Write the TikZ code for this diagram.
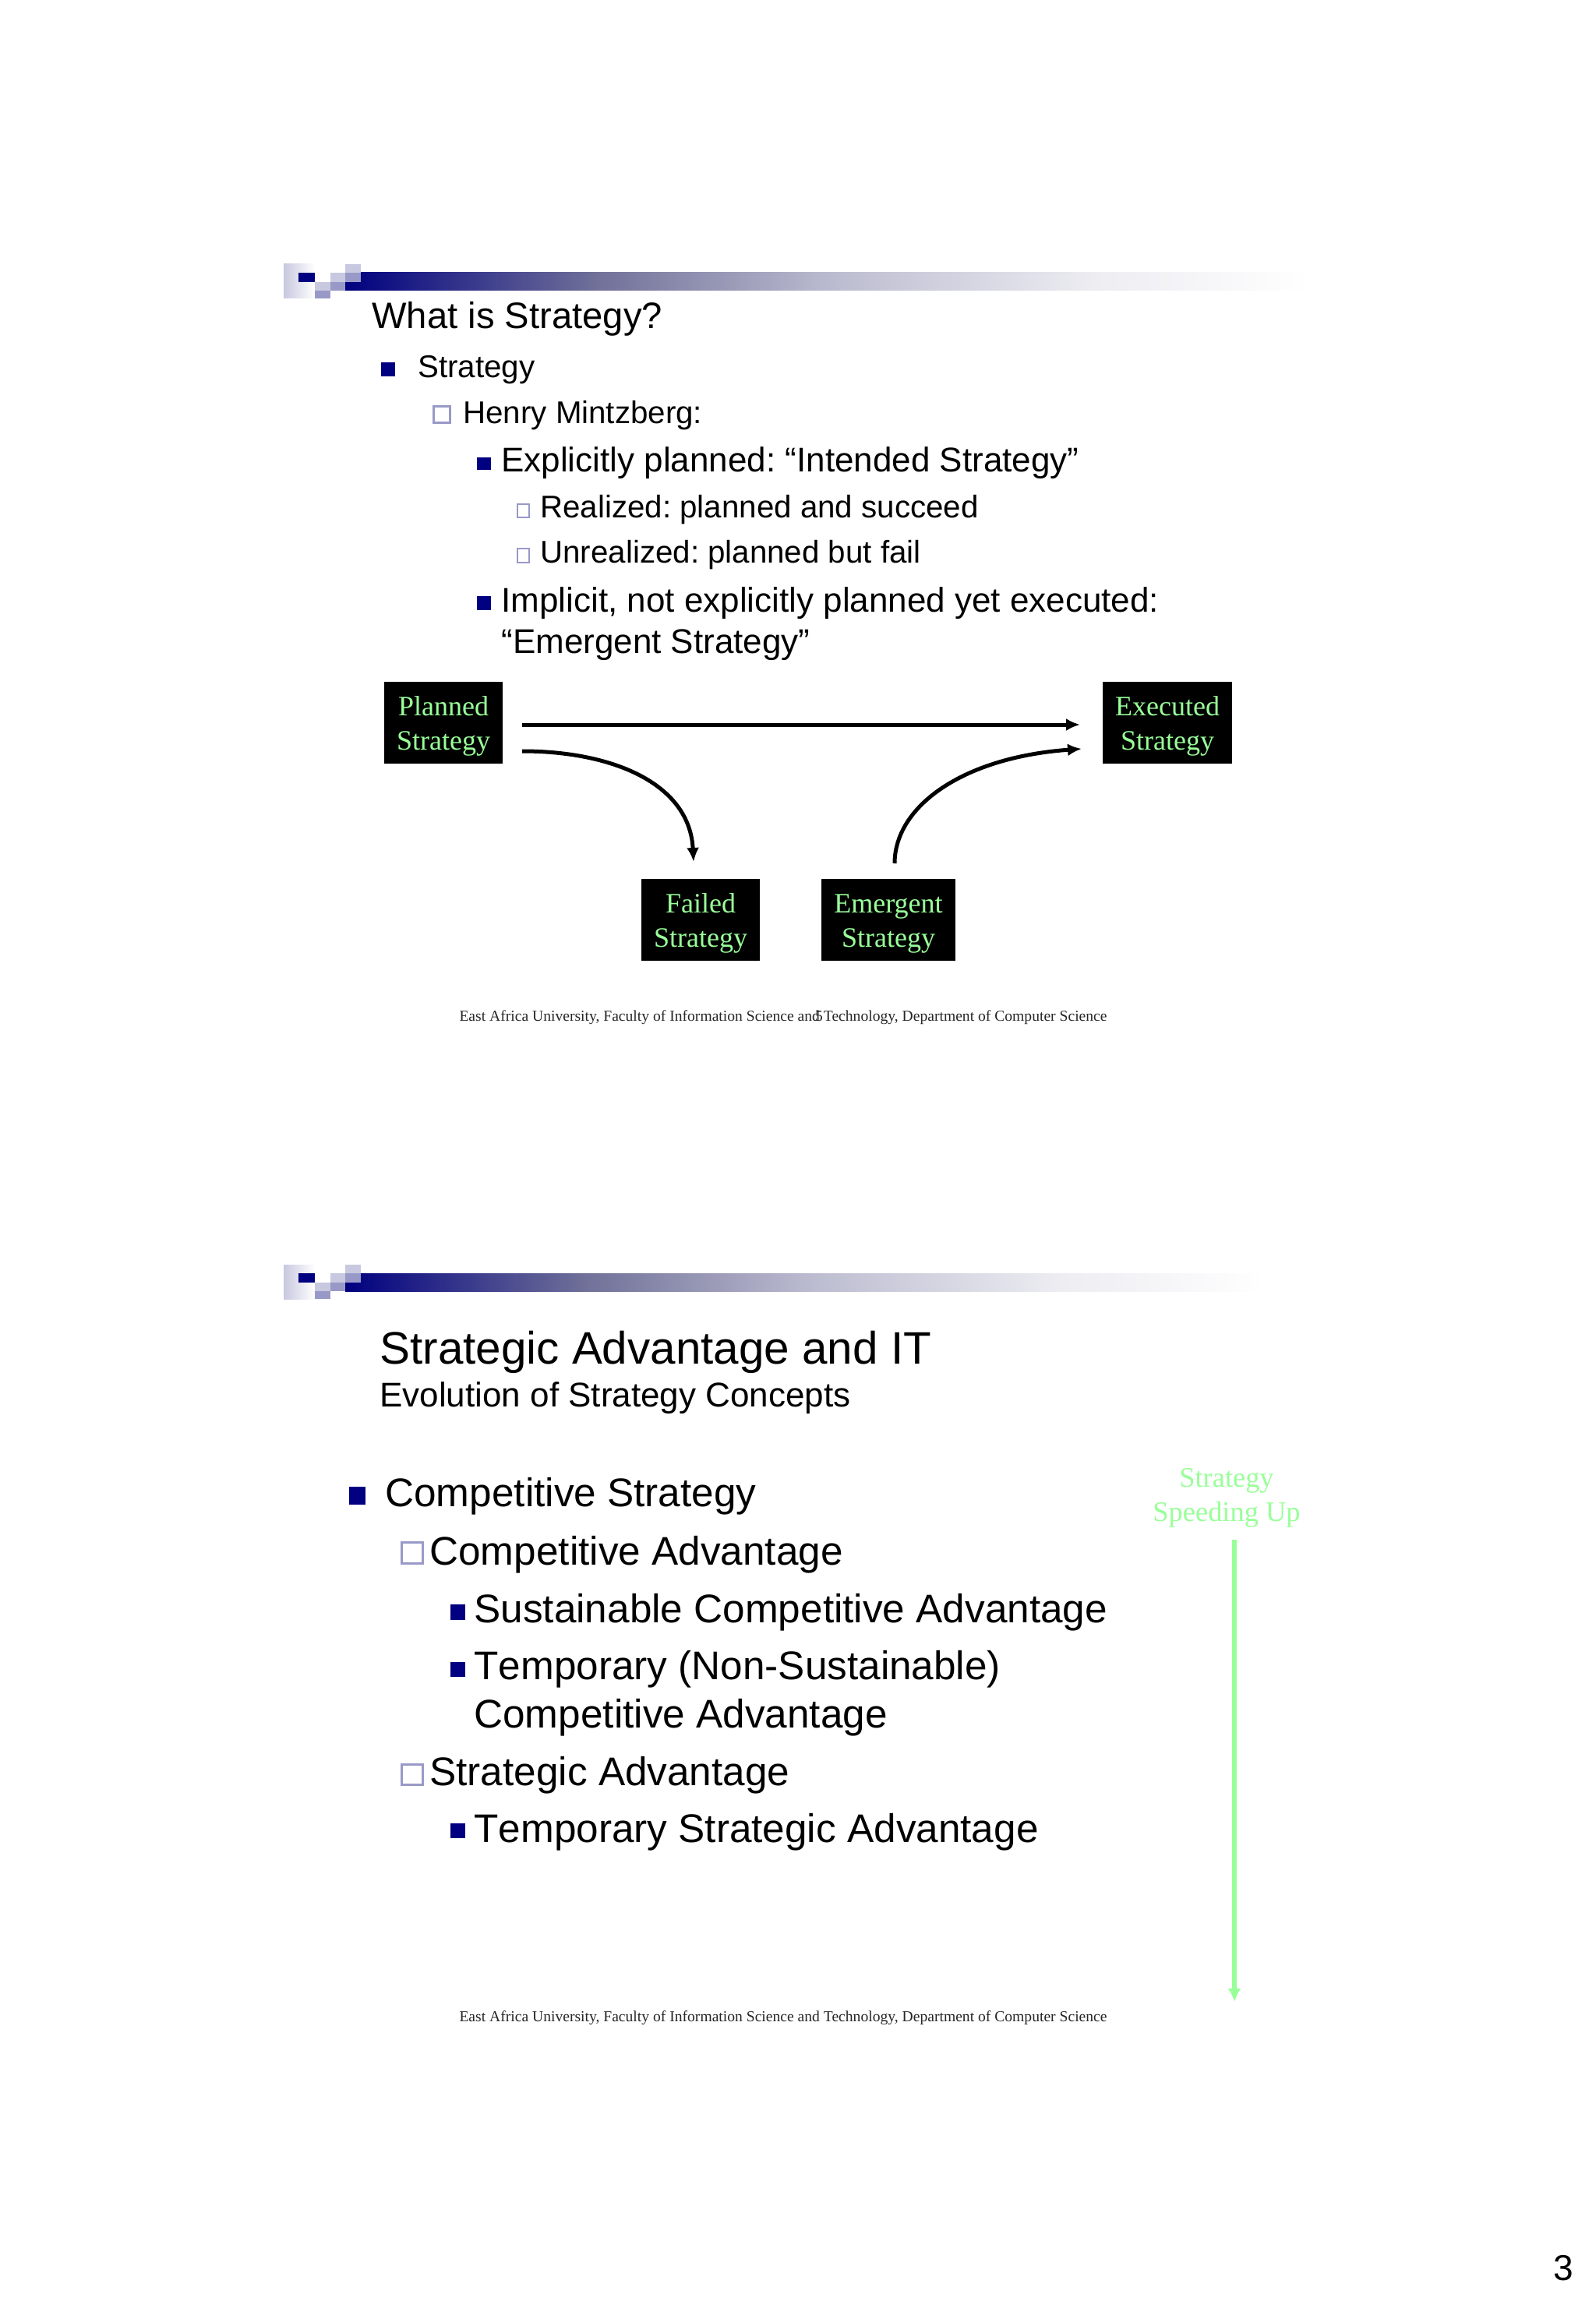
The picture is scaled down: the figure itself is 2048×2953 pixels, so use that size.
\documentclass[tikz,border=0pt]{standalone}
\usepackage{fontspec}
\setmainfont{Liberation Serif}
\newfontfamily\arialfont[Kerning=Off]{Liberation Sans}
\usetikzlibrary{arrows.meta}
\definecolor{slidenavy}{HTML}{000080}
\definecolor{slidelilac}{HTML}{9999C8}
\definecolor{slidepale}{HTML}{C8C8E0}
\definecolor{slidegreen}{HTML}{99FF99}
\pgfdeclarehorizontalshading{bannerfade}{100bp}{rgb(0bp)=(0,0,.5); rgb(25bp)=(0,0,.5);
  rgb(38bp)=(.44,.44,.6); rgb(50.5bp)=(.74,.74,.82);
  rgb(64bp)=(.93,.93,.95); rgb(75bp)=(1,1,1); rgb(100bp)=(1,1,1)}
\newcommand{\arialsize}[1]{\arialfont\fontsize{#1}{#1}\selectfont}
\newcommand{\slidebanner}[2]{
\begin{scope}[shift={(0,#1)}]
\shade[left color=slidepale, right color=white] (364,0) rectangle (404,44);
\shade[shading=bannerfade] (443,11) rectangle (#2,34);
\fill[slidenavy] (383,11) rectangle (404,23);
\fill[slidepale] (404,23) rectangle (424,34);
\fill[slidelilac] (404,34) rectangle (424,44);
\fill[slidepale] (424,11) rectangle (443,23);
\fill[slidelilac] (424,23) rectangle (443,34);
\fill[slidepale] (443,0) rectangle (463,11);
\fill[slidelilac] (443,11) rectangle (463,23);
\end{scope}
}
\newcommand{\boxstrut}{\rule{0pt}{17pt}}
\tikzset{
  lineleft/.style={anchor=base west, inner sep=0pt, text=black},
  stratbox/.style={fill=black, text=slidegreen, align=center, inner sep=0pt, minimum height=52.5pt,
    font=\fontsize{18}{22}\selectfont},
  footline/.style={anchor=base, inner sep=0pt, text=black!85, font=\fontsize{9.8}{12}\selectfont},
  bulletfull/.style={fill=slidenavy},
  bulletopen/.style={draw=slidelilac, fill=white, line width=1.5pt},
  flowline/.style={-{Latex[length=9pt,width=8pt]}, line width=2.5pt},
}

\begin{document}
\frenchspacing
\begin{tikzpicture}[x=0.5pt, y=-0.5pt]
\useasboundingbox (0,0) rectangle (2048,2953);

\slidebanner{339}{1680}

\draw (477,422) node[lineleft, font=\arialsize{23.6}] (whatis) {What is Strategy?};

\fill[bulletfull] (489,465) rectangle (507,483);
\draw (536,485) node[lineleft, font=\arialsize{20.15}] (strategyitem) {Strategy};

\draw[bulletopen] (556,521) rectangle (577,542);
\draw (594,543) node[lineleft, font=\arialsize{20.15}] (henry) {Henry Mintzberg:};

\fill[bulletfull] (612,587) rectangle (630,603);
\draw (643,605) node[lineleft, font=\arialsize{22}] (explicit) {Explicitly planned: “Intended Strategy”};

\draw[bulletopen, line width=1.1pt] (664,647) rectangle (679,664);
\draw (693,664) node[lineleft, font=\arialsize{20.15}] (realized) {Realized: planned and succeed};

\draw[bulletopen, line width=1.1pt] (664,704) rectangle (679,722);
\draw (693,722) node[lineleft, font=\arialsize{20.15}] (unrealized) {Unrealized: planned but fail};

\fill[bulletfull] (612,765) rectangle (630,783);
\draw (643,785) node[lineleft, font=\arialsize{22}] (implicit) {Implicit, not explicitly planned yet executed:};
\draw (643,838) node[lineleft, font=\arialsize{22}] (emergentitem) {“Emergent Strategy”};

\node[stratbox, minimum width=76pt] (planned) at (569,927.5) {\boxstrut Planned\\Strategy};
\node[stratbox, minimum width=83pt] (executed) at (1498,927.5) {\boxstrut Executed\\Strategy};
\node[stratbox, minimum width=76pt] (failed) at (899,1180) {\boxstrut Failed\\Strategy};
\node[stratbox, minimum width=86pt] (emergent) at (1140,1180) {\boxstrut Emergent\\Strategy};

\coordinate (plannedtop) at (670,930);
\coordinate (plannedlow) at (670,964);
\coordinate (executedtop) at (1386,930);
\coordinate (executedlow) at (1388,961);
\coordinate (failedtop) at (890,1106);
\coordinate (emergenttop) at (1148,1108);

\draw[flowline] (plannedtop) -- (executedtop);
\draw[flowline] (plannedlow) .. controls (785,964) and (885,1005) .. (failedtop);
\draw[flowline] (emergenttop) .. controls (1148,1035) and (1235,972) .. (executedlow);

\draw (1005,1310) node[footline] (footone) {East Africa University, Faculty of Information Science and Technology, Department of Computer Science};
\draw (1051,1310) node[footline] (numfive) {5};

\slidebanner{1623}{1625}

\draw (487,1750) node[lineleft, font=\arialsize{29.2}] (advantage) {Strategic Advantage and IT};
\draw (487,1805) node[lineleft, font=\arialsize{22}] (evolution) {Evolution of Strategy Concepts};

\fill[bulletfull] (448,1908) rectangle (469,1931);
\draw (494,1933) node[lineleft, font=\arialsize{25.65}] (competitive) {Competitive Strategy};

\draw[bulletopen] (515,1979) rectangle (542,2006);
\draw (551,2008) node[lineleft, font=\arialsize{25.65}] (compadv) {Competitive Advantage};

\fill[bulletfull] (578,2059) rectangle (597,2079);
\draw (608,2082) node[lineleft, font=\arialsize{25.65}] (sustain) {Sustainable Competitive Advantage};

\fill[bulletfull] (578,2133) rectangle (597,2152);
\draw (608,2155) node[lineleft, font=\arialsize{25.65}] (temporary) {Temporary (Non-Sustainable)};
\draw (608,2217) node[lineleft, font=\arialsize{25.65}] (tempadv) {Competitive Advantage};

\draw[bulletopen] (515,2264) rectangle (542,2290);
\draw (551,2291) node[lineleft, font=\arialsize{25.65}] (stratadv) {Strategic Advantage};

\fill[bulletfull] (578,2340) rectangle (597,2359);
\draw (608,2364) node[lineleft, font=\arialsize{25.65}] (tempstrat) {Temporary Strategic Advantage};

\draw (1574,1908) node[anchor=base, inner sep=0pt, text=slidegreen, font=\fontsize{18.2}{22}\selectfont] (speedone) {Strategy};
\draw (1574,1952) node[anchor=base, inner sep=0pt, text=slidegreen, font=\fontsize{18.2}{22}\selectfont] (speedtwo) {Speeding Up};

\coordinate (speedstart) at (1584,1976);
\coordinate (speedend) at (1584,2569);
\draw[-{Latex[length=8.5pt,width=8.5pt]}, line width=2.6pt, slidegreen] (speedstart) -- (speedend);

\draw (1005,2594) node[footline] (foottwo) {East Africa University, Faculty of Information Science and Technology, Department of Computer Science};

\draw (2006,2926) node[anchor=base, inner sep=0pt, font=\arialsize{23}] (pagenum) {3};

\end{tikzpicture}
\end{document}
